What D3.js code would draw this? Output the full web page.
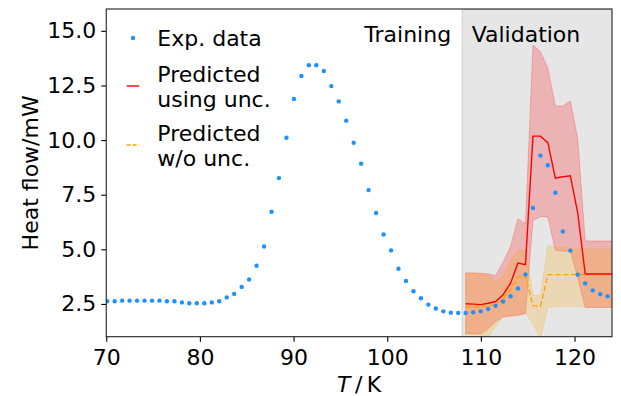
<!DOCTYPE html>
<html>
<head>
<meta charset="utf-8">
<script src="https://cdn.jsdelivr.net/npm/d3@7"></script>
<style>
  body { margin: 0; background: #fff; }
  svg { display: block; font-family: "DejaVu Sans", sans-serif; }
  .axis text { font-size: 22px; fill: #000; font-family: "DejaVu Sans", sans-serif; }
  .axis path, .axis line { stroke: #000; stroke-width: 1.1; }
</style>
</head>
<body>
<svg width="621" height="396"></svg>
<script>
var svg = d3.select('svg');

// measured temperatures (K) of the experimental points
var temps = [70.10, 70.90, 71.70, 72.49, 73.29, 74.09, 74.89, 75.68, 76.48, 77.28,
  78.08, 78.87, 79.67, 80.47, 81.27, 82.06, 82.86, 83.66, 84.46, 85.25,
  86.05, 86.85, 87.65, 88.44, 89.24, 90.04, 90.84, 91.63, 92.43, 93.23,
  94.03, 94.82, 95.62, 96.42, 97.22, 98.01, 98.81, 99.61, 100.41, 101.20,
  102.00, 102.80, 103.60, 104.39, 105.19, 105.99, 106.79, 107.58, 108.38, 109.18,
  109.98, 110.77, 111.57, 112.37, 113.17, 113.96, 114.76, 115.56, 116.36, 117.15,
  117.95, 118.75, 119.55, 120.34, 121.14, 121.94, 122.74, 123.53];

var heatFlow = [2.62, 2.62, 2.65, 2.65, 2.65, 2.65, 2.65, 2.65, 2.62, 2.62,
  2.57, 2.53, 2.53, 2.53, 2.57, 2.62, 2.80, 2.96, 3.28, 3.62,
  4.25, 5.13, 6.72, 8.26, 10.11, 11.88, 12.93, 13.43, 13.43, 13.16,
  12.47, 11.77, 10.89, 9.88, 8.92, 7.71, 6.66, 5.68, 4.95, 4.11,
  3.55, 3.08, 2.76, 2.47, 2.29, 2.16, 2.10, 2.09, 2.09, 2.12,
  2.16, 2.27, 2.42, 2.61, 2.85, 3.21, 3.85, 6.89, 9.29, 8.85,
  7.59, 5.82, 4.94, 3.84, 3.44, 3.12, 2.94, 2.85];

// prediction grid in the validation range
var predT = [108.38, 109.18, 109.98, 110.77, 111.57, 112.37, 113.17, 113.96, 114.76, 115.56,
  116.36, 117.15, 117.95, 118.75, 119.55, 120.34, 121.14, 121.94, 122.74, 123.53, 124.33];

var predUnc = [2.51, 2.49, 2.47, 2.53, 2.61, 2.92, 3.45, 4.37, 4.30, 10.18,
  10.18, 9.88, 8.26, 8.32, 8.37, 6.67, 3.87, 3.87, 3.87, 3.87, 3.87];
var predUncLo = [1.12, 1.12, 1.12, 1.35, 1.70, 1.90, 1.95, 1.98, 2.05, 6.30,
  6.50, 6.48, 4.95, 4.92, 4.90, 3.70, 2.34, 2.34, 2.34, 2.34, 2.34];
var predUncHi = [3.92, 3.92, 3.90, 3.88, 3.80, 4.40, 5.14, 6.40, 6.17, 14.35,
  14.04, 13.30, 11.56, 11.56, 11.79, 10.08, 5.38, 5.38, 5.38, 5.38, 5.38];

var predNoUnc = [2.36, 2.36, 2.36, 2.41, 2.47, 2.73, 3.15, 3.73, 3.80, 2.42,
  2.39, 3.84, 3.84, 3.84, 3.84, 3.84, 3.84, 3.84, 3.84, 3.84, 3.84];
var predNoUncLo = [1.12, 1.12, 1.08, 0.95, 1.45, 1.90, 1.95, 2.00, 2.10, 1.60,
  0.90, 2.35, 2.37, 2.39, 2.39, 2.39, 2.37, 2.37, 2.37, 2.37, 2.37];
var predNoUncHi = [3.92, 3.90, 3.88, 3.80, 3.55, 3.75, 4.50, 4.93, 5.00, 2.90,
  2.90, 5.15, 5.12, 5.08, 5.05, 5.02, 5.00, 5.00, 5.00, 5.00, 5.00];

var splitT = 108;
var xTicks = [70, 80, 90, 100, 110, 120];
var yTicks = [2.5, 5.0, 7.5, 10.0, 12.5, 15.0];
var legendLabels = [['Exp. data'], ['Predicted', 'using unc.'], ['Predicted', 'w/o unc.']];

// layout
var plot = {l: 106.25, r: 612, t: 9, b: 336.7};

var xScale = d3.scaleLinear().domain([70, 124]).range([plot.l, plot.r]);
var yScale = d3.scaleLinear().domain([1, 16]).range([plot.b, plot.t]);

svg.append('defs').append('clipPath').attr('id', 'clip')
  .append('rect')
  .attr('x', plot.l).attr('y', plot.t)
  .attr('width', plot.r - plot.l).attr('height', plot.b - plot.t);

var chartG = svg.append('g').attr('clip-path', 'url(#clip)');

// validation shading
chartG.append('rect')
  .attr('x', xScale(splitT))
  .attr('y', plot.t)
  .attr('width', plot.r - xScale(splitT) + 5)
  .attr('height', plot.b - plot.t)
  .style('fill', 'gray').style('fill-opacity', 0.2)
  .style('stroke', 'gray').style('stroke-opacity', 0.2).style('stroke-width', 1.5);

var pred = predT.map(function (t, i) {
  return {t: t, u: predUnc[i], uLo: predUncLo[i], uHi: predUncHi[i],
    n: predNoUnc[i], nLo: predNoUncLo[i], nHi: predNoUncHi[i]};
});

function band(lo, hi) {
  return d3.area()
    .x(function (d) { return xScale(d.t); })
    .y0(function (d) { return yScale(d[lo]); })
    .y1(function (d) { return yScale(d[hi]); });
}

chartG.append('path').datum(pred)
  .attr('d', band('uLo', 'uHi'))
  .style('fill', 'red').style('fill-opacity', 0.22)
  .style('stroke', 'red').style('stroke-opacity', 0.22).style('stroke-width', 1);

chartG.append('path').datum(pred)
  .attr('d', band('nLo', 'nHi'))
  .style('fill', 'orange').style('fill-opacity', 0.22)
  .style('stroke', 'orange').style('stroke-opacity', 0.22).style('stroke-width', 1);

function line(key) {
  return d3.line()
    .x(function (d) { return xScale(d.t); })
    .y(function (d) { return yScale(d[key]); });
}

chartG.append('path').datum(pred)
  .attr('d', line('n'))
  .style('fill', 'none').style('stroke', 'orange')
  .style('stroke-width', 1.4).style('stroke-dasharray', '5.5,2.5');

chartG.append('path').datum(pred)
  .attr('d', line('u'))
  .style('fill', 'none').style('stroke', 'red').style('stroke-width', 1.4);

// experimental points
chartG.selectAll('.dot')
  .data(temps.map(function (t, i) { return {t: t, v: heatFlow[i]}; }))
  .enter()
  .append('circle')
  .attr('class', 'dot')
  .attr('cx', function (d) { return xScale(d.t); })
  .attr('cy', function (d) { return yScale(d.v); })
  .attr('r', 2.2)
  .style('fill', '#1e90ff');

// region labels
svg.append('text')
  .attr('x', xScale(splitT) - 11).attr('y', 42)
  .attr('text-anchor', 'end')
  .style('font-size', '22px')
  .text('Training');
svg.append('text')
  .attr('x', xScale(splitT) + 9.5).attr('y', 42)
  .style('font-size', '22px')
  .text('Validation');

// axes
var xAxis = d3.axisBottom(xScale).tickValues(xTicks).tickSize(5).tickPadding(7.5)
  .tickFormat(d3.format('d'));
var yAxis = d3.axisLeft(yScale).tickValues(yTicks).tickSize(5).tickPadding(5)
  .tickFormat(d3.format('.1f'));

svg.append('g').attr('class', 'x axis')
  .attr('transform', 'translate(0,' + plot.b + ')')
  .call(xAxis)
  .call(function (g) { g.select('.domain').remove(); });
svg.append('g').attr('class', 'y axis')
  .attr('transform', 'translate(' + plot.l + ',0)')
  .call(yAxis)
  .call(function (g) { g.select('.domain').remove(); });

// frame
svg.append('rect')
  .attr('x', plot.l).attr('y', plot.t)
  .attr('width', plot.r - plot.l).attr('height', plot.b - plot.t)
  .style('fill', 'none').style('stroke', '#222').style('stroke-width', 1.1);

// axis labels
svg.append('text')
  .attr('transform', 'translate(38,' + (plot.t + plot.b) / 2 + ')rotate(-90)')
  .attr('text-anchor', 'middle')
  .style('font-size', '22px')
  .text('Heat flow/mW');

var xl = svg.append('text')
  .attr('x', (plot.l + plot.r) / 2).attr('y', 392)
  .attr('text-anchor', 'middle')
  .style('font-size', '22px');
xl.append('tspan').style('font-style', 'italic').text('T');
xl.append('tspan').text('\u2009/\u2009K');

// legend
var legend = svg.append('g');
var legendY = [38, 86, 145];
legendLabels.forEach(function (lines, i) {
  var cy = legendY[i];
  if (i === 0) {
    legend.append('circle').attr('cx', 133).attr('cy', cy).attr('r', 2.2)
      .style('fill', '#1e90ff');
  } else {
    legend.append('line')
      .attr('x1', 126.7).attr('x2', 139.3).attr('y1', cy).attr('y2', cy)
      .style('stroke', i === 1 ? 'red' : 'orange').style('stroke-width', 1.4)
      .style('stroke-dasharray', i === 1 ? null : '4,2');
  }
  var lineH = 25;
  var baseY = cy + 8 - (lines.length - 1) * lineH / 2;
  var t = legend.append('text').attr('x', 157.3).attr('y', baseY).style('font-size', '22px');
  lines.forEach(function (s, k) {
    t.append('tspan').attr('x', 157.3).attr('dy', k === 0 ? 0 : lineH).text(s);
  });
});
</script>
</body>
</html>
